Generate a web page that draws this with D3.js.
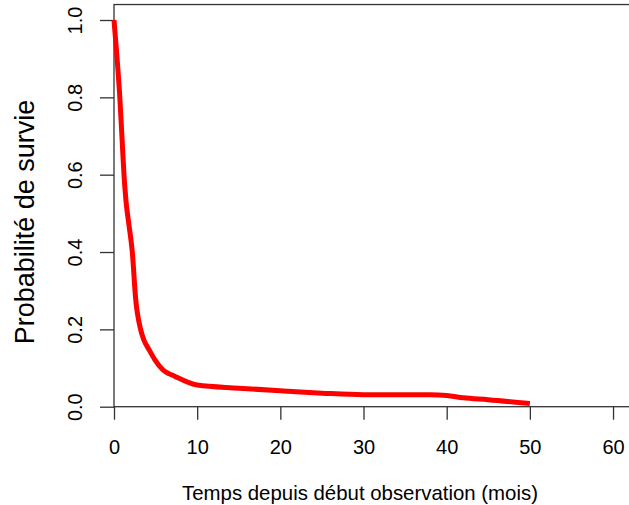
<!DOCTYPE html>
<html>
<head>
<meta charset="utf-8">
<script src="https://cdn.jsdelivr.net/npm/d3@7"></script>
<style>
  html, body { margin: 0; padding: 0; background: #fff; }
  svg text { font-family: "Liberation Sans", Arial, sans-serif; fill: #000; }
</style>
</head>
<body>
<svg id="chart" width="629" height="505"></svg>
<script>
// ---- data ----
const times = [0, 0.3, 0.7, 1.0, 1.2, 1.45, 1.8, 2.2, 2.6, 3.2, 3.6, 4.2, 4.9, 5.9, 7.3, 10, 15, 20, 25, 30, 35, 38, 40, 42, 45, 50];
const survival = [1.0, 0.92, 0.80, 0.68, 0.60, 0.53, 0.47, 0.40, 0.28, 0.20, 0.172, 0.148, 0.122, 0.095, 0.079, 0.056, 0.048, 0.041, 0.035, 0.031, 0.031, 0.031, 0.029, 0.023, 0.018, 0.008];
const xTicks = [0, 10, 20, 30, 40, 50, 60];
const yTicks = [0.0, 0.2, 0.4, 0.6, 0.8, 1.0];
const xLabel = "Temps depuis début observation (mois)";
const yLabel = "Probabilité de survie";

// ---- layout ----
const svg = d3.select("#chart");
const x = d3.scaleLinear().domain([0, 62.4]).range([114, 633]);
const y = d3.scaleLinear().domain([0, 1]).range([406.7, 20]);
const yTop = y(1.04);

// box
svg.append("rect")
  .attr("x", x(0)).attr("y", yTop)
  .attr("width", x(62.4) - x(0)).attr("height", y(0) - yTop)
  .attr("fill", "none").attr("stroke", "#333").attr("stroke-width", 1.3);

// x axis
const xAxis = d3.axisBottom(x).tickValues(xTicks).tickSize(13).tickPadding(5)
  .tickFormat(d3.format("d"));
const gx = svg.append("g").attr("transform", `translate(0,${y(0)})`).call(xAxis);
gx.select(".domain").remove();
gx.selectAll(".tick line").attr("stroke", "#333").attr("stroke-width", 1.3);
gx.selectAll(".tick text").attr("font-size", 20).attr("dy", null).attr("y", 47)
  .style("font-family", "'Liberation Sans', Arial, sans-serif");

// y axis
const yAxis = d3.axisLeft(y).tickValues(yTicks).tickSize(14).tickFormat(d3.format(".1f"));
const gy = svg.append("g").attr("transform", `translate(${x(0)},0)`).call(yAxis);
gy.select(".domain").remove();
gy.selectAll(".tick line").attr("stroke", "#333").attr("stroke-width", 1.3);
gy.selectAll(".tick text")
  .attr("font-size", 20)
  .attr("x", null).attr("dy", null)
  .attr("text-anchor", "middle")
  .attr("transform", "translate(-32.3,0) rotate(-90)")
  .style("font-family", "'Liberation Sans', Arial, sans-serif");

// curve
const pts = times.map((t, i) => [t, survival[i]]);
const line = d3.line().x(d => x(d[0])).y(d => y(d[1])).curve(d3.curveMonotoneX);
svg.append("path").datum(pts)
  .attr("d", line)
  .attr("fill", "none").attr("stroke", "#ff0000").attr("stroke-width", 5)
  .attr("stroke-linejoin", "round");

// labels
svg.append("text").attr("x", 360).attr("y", 500)
  .attr("text-anchor", "middle").attr("font-size", 20.4).text(xLabel);
svg.append("text")
  .attr("transform", "translate(33.5,222) rotate(-90)")
  .attr("text-anchor", "middle").attr("font-size", 27).text(yLabel);
</script>
</body>
</html>
